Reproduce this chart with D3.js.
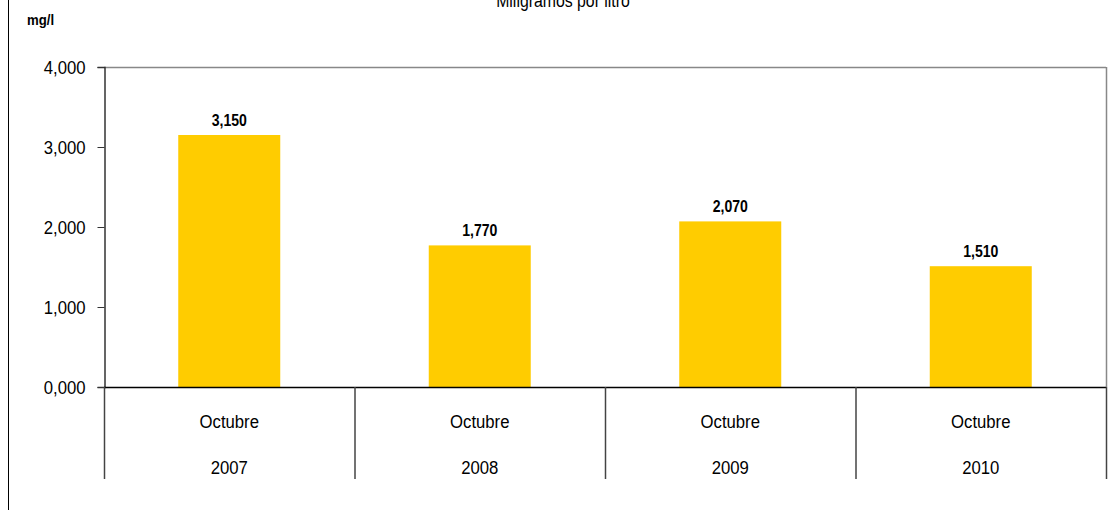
<!DOCTYPE html>
<html><head><meta charset="utf-8">
<script src="https://cdn.jsdelivr.net/npm/d3@7"></script>
<style>body{margin:0;background:#fff}svg{display:block}</style>
</head><body>
<svg id="c" width="1115" height="510"></svg>
<script>
const months = ["Octubre","Octubre","Octubre","Octubre"];
const years = ["2007","2008","2009","2010"];
const values = [3150,1770,2070,1510];
const valueLabels = ["3,150","1,770","2,070","1,510"];
const yTicks = [0,1000,2000,3000,4000];
const yTickLabels = ["0,000","1,000","2,000","3,000","4,000"];

const svg = d3.select("#c");
const F = "'Liberation Sans',Arial,sans-serif";
const SX = 0.88;
const L=104, R=1106, T=67, B=387;
const x = d3.scaleBand().domain(years).range([L,R]).paddingInner(0).paddingOuter(0);
const y = d3.scaleLinear().domain([0,4000]).range([B,T]);

// outer left border
svg.append("line").attr("x1",8.5).attr("x2",8.5).attr("y1",0).attr("y2",510).attr("stroke","#000").attr("stroke-width",1);

// title
svg.append("text").attr("transform",`translate(563,7) scale(${SX},1)`).attr("text-anchor","middle")
  .attr("font-family",F).attr("font-size",18).attr("fill","#000").text("Miligramos  por  litro");
svg.append("text").attr("transform",`translate(27,25) scale(${SX},1)`).attr("font-family",F).attr("font-size",15)
  .attr("font-weight","bold").attr("fill","#000").text("mg/l");

// plot border top/right
svg.append("line").attr("x1",L).attr("x2",R).attr("y1",T+0.5).attr("y2",T+0.5).attr("stroke","#888").attr("stroke-width",1.5);
svg.append("line").attr("x1",R+0.5).attr("x2",R+0.5).attr("y1",T).attr("y2",B).attr("stroke","#888").attr("stroke-width",1.5);

// bars
const bw = 102;
svg.selectAll("rect.bar").data(values).join("rect").attr("class","bar")
  .attr("x",(d,i)=>x(years[i])+x.bandwidth()/2-bw/2)
  .attr("y",d=>y(d)).attr("width",bw).attr("height",d=>B-y(d)).attr("fill","#FFCC00");

// value labels
svg.selectAll("text.vl").data(values).join("text").attr("class","vl")
  .attr("transform",(d,i)=>`translate(${x(years[i])+x.bandwidth()/2},${y(d)-9}) scale(${SX},1)`)
  .attr("text-anchor","middle").attr("font-family",F).attr("font-size",16).attr("font-weight","bold")
  .attr("fill","#000").text((d,i)=>valueLabels[i]);

// y axis
const yAxis = d3.axisLeft(y).tickValues(yTicks).tickSize(7).tickPadding(12)
  .tickFormat((d,i)=>yTickLabels[i]);
const gy = svg.append("g").attr("transform",`translate(${L+0.5},0)`).call(yAxis);
gy.select(".domain").attr("stroke","#333").attr("stroke-width",1.5);
gy.selectAll(".tick line").attr("stroke","#333");
gy.selectAll(".tick text").attr("font-family",F).attr("font-size",19).attr("fill","#000")
  .attr("x",0).attr("transform",`translate(-19,0) scale(${SX},1)`);

// x baseline
svg.append("line").attr("x1",L).attr("x2",R).attr("y1",B+0.5).attr("y2",B+0.5).attr("stroke","#000").attr("stroke-width",1.5);

// category separators
const seps = years.map(d=>x(d)).concat([R]);
svg.selectAll("line.sep").data(seps).join("line").attr("class","sep")
  .attr("x1",d=>d+0.5).attr("x2",d=>d+0.5).attr("y1",B).attr("y2",479)
  .attr("stroke","#444").attr("stroke-width",1.5);

// category labels
svg.selectAll("text.m").data(months).join("text").attr("class","m")
  .attr("transform",(d,i)=>`translate(${x(years[i])+x.bandwidth()/2},428) scale(${SX},1)`)
  .attr("text-anchor","middle").attr("font-family",F).attr("font-size",19).attr("fill","#000").text(d=>d);
svg.selectAll("text.yr").data(years).join("text").attr("class","yr")
  .attr("transform",d=>`translate(${x(d)+x.bandwidth()/2},474) scale(${SX},1)`)
  .attr("text-anchor","middle").attr("font-family",F).attr("font-size",19).attr("fill","#000").text(d=>d);
</script>
</body></html>
